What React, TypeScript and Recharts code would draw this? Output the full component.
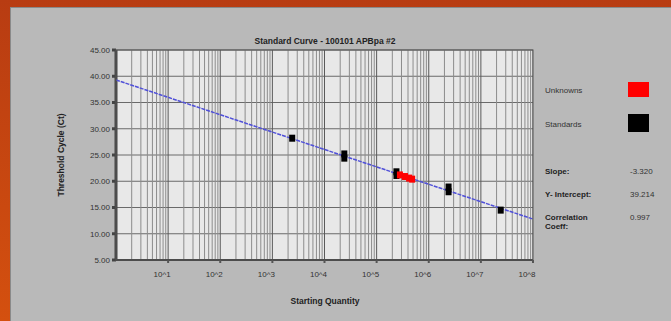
import {
  CartesianGrid,
  ReferenceLine,
  Scatter,
  ScatterChart,
  XAxis,
  YAxis,
} from "recharts";

const title = "Standard Curve - 100101 APBpa #2";
const xTicks = [10, 100, 1000, 10000, 100000, 1000000, 10000000, 100000000];
const xTickLabels = ["10^1", "10^2", "10^3", "10^4", "10^5", "10^6", "10^7", "10^8"];
const yTicks = [5, 10, 15, 20, 25, 30, 35, 40, 45];
const decades = [1, 10, 100, 1000, 10000, 100000, 1000000, 10000000];
const multipliers = [2, 3, 4, 5, 6, 7, 8, 9];

const standards = [
  { q: 2400, ct: 28.2 },
  { q: 24000, ct: 25.2 },
  { q: 24000, ct: 24.4 },
  { q: 240000, ct: 21.8 },
  { q: 240000, ct: 21.1 },
  { q: 2400000, ct: 18.9 },
  { q: 2400000, ct: 18.0 },
  { q: 24000000, ct: 14.5 },
];

const unknowns = [
  { q: 280000, ct: 21.2 },
  { q: 350000, ct: 20.9 },
  { q: 420000, ct: 20.6 },
  { q: 480000, ct: 20.4 },
];

const fitLine = [
  { q: 1, ct: 39.3 },
  { q: 100000000, ct: 12.8 },
];

const stats = [
  { label: "Slope:", value: "-3.320" },
  { label: "Y- Intercept:", value: "39.214" },
  { label: "Correlation", value: "0.997" },
];

const font = "'Liberation Sans', Arial, sans-serif";

function Square(props: any) {
  const { cx, cy, fill } = props;
  return <rect x={cx - 3} y={cy - 3.5} width={6} height={7} fill={fill} />;
}

function XTick(props: any) {
  const { x, y, payload, index } = props;
  return (
    <text x={x - 6} y={y + 12} textAnchor="middle" fontSize={8} fill="#333" fontFamily={font}>
      {xTickLabels[index] ?? payload.value}
    </text>
  );
}

export default function App() {
  const minor: number[] = [];
  decades.forEach((d) => multipliers.forEach((m) => minor.push(d * m)));

  return (
    <div
      style={{
        position: "absolute",
        left: 0,
        top: 0,
        width: 671,
        height: 321,
        background: "linear-gradient(180deg, #b83c12 0%, #d4500f 100%)",
        overflow: "hidden",
        fontFamily: font,
      }}
    >
      <div
        style={{
          position: "absolute",
          left: 10,
          top: 7,
          width: 661,
          height: 314,
          background: "#b9b9b9",
          boxShadow: "inset 1px 1px 0 #8a8a8a",
        }}
      />
      <div style={{ position: "absolute", left: 0, top: 0 }}>
        <ScatterChart
          width={671}
          height={321}
          margin={{ top: 50, right: 138, bottom: 21, left: 56 }}
        >
          <CartesianGrid
            vertical={false}
            stroke="#6a6a6a"
            fill="#e8e8e8"
            fillOpacity={1}
          />
          {minor.map((v) => (
            <ReferenceLine key={`m-${v}`} x={v} stroke="#8c8c8c" strokeWidth={1} ifOverflow="hidden" />
          ))}
          {xTicks.map((v) => (
            <ReferenceLine key={`d-${v}`} x={v} stroke="#5a5a5a" strokeWidth={1} ifOverflow="hidden" />
          ))}
          <XAxis
            type="number"
            dataKey="q"
            scale="log"
            domain={[1, 100000000]}
            ticks={xTicks}
            allowDataOverflow
            height={40}
            stroke="#444"
            strokeWidth={2}
            tickLine={{ stroke: "#555" }}
            tickSize={3}
            tick={<XTick />}
            interval={0}
          />
          <YAxis
            type="number"
            dataKey="ct"
            domain={[5, 45]}
            ticks={yTicks}
            width={60}
            stroke="#444"
            strokeWidth={3}
            tickSize={4}
            tickFormatter={(v: number) => v.toFixed(2)}
            tick={{ fontSize: 8, fill: "#333", fontFamily: font }}
            interval={0}
          />
          <Scatter
            data={fitLine}
            line={{ stroke: "#5050d8", strokeWidth: 1.5, strokeDasharray: "4 1" }}
            shape={() => null}
            isAnimationActive={false}
          />
          <Scatter data={standards} fill="#000" shape={<Square />} isAnimationActive={false} />
          <Scatter data={unknowns} fill="#ff0000" shape={<Square />} isAnimationActive={false} />
        </ScatterChart>
      </div>
      <svg
        width={671}
        height={321}
        style={{ position: "absolute", left: 0, top: 0, pointerEvents: "none" }}
        fontFamily={font}
      >
        <rect x={116} y={50} width={417} height={210} fill="none" stroke="#555" strokeWidth={1} />
        <text x={325} y={44} textAnchor="middle" fontSize={8.5} fontWeight="bold" fill="#222">
          {title}
        </text>
        <text
          x={0}
          y={0}
          transform="translate(64,155) rotate(-90)"
          textAnchor="middle"
          fontSize={8.5}
          fontWeight="bold"
          fill="#222"
        >
          Threshold Cycle (Ct)
        </text>
        <text x={325} y={304} textAnchor="middle" fontSize={8.5} fontWeight="bold" fill="#222">
          Starting Quantity
        </text>
        <text x={545} y={93} fontSize={8} fill="#333">Unknowns</text>
        <rect x={628} y={82} width={21} height={15} fill="#ff0000" />
        <text x={545} y={127} fontSize={8} fill="#333">Standards</text>
        <rect x={628} y={114} width={21} height={18} fill="#000" />
        {stats.map((s, i) => (
          <g key={s.label}>
            <text x={545} y={174 + i * 23} fontSize={8} fontWeight="bold" fill="#222">
              {s.label}
            </text>
            <text x={630} y={174 + i * 23} fontSize={8} fill="#333">
              {s.value}
            </text>
          </g>
        ))}
        <text x={545} y={229} fontSize={8} fontWeight="bold" fill="#222">Coeff:</text>
      </svg>
    </div>
  );
}
